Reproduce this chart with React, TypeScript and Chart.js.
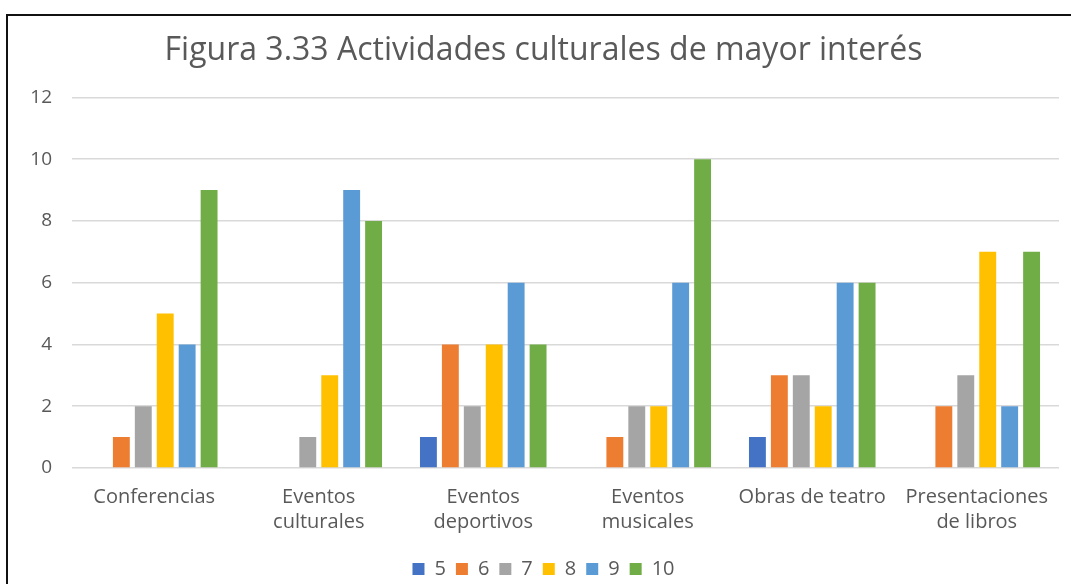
import React, { useEffect, useRef } from "react";
import { Chart, registerables } from "chart.js";

Chart.register(...registerables);

const categories: string[][] = [
  ["Conferencias"],
  ["Eventos", "culturales"],
  ["Eventos", "deportivos"],
  ["Eventos", "musicales"],
  ["Obras de teatro"],
  ["Presentaciones", "de libros"],
];

const seriesNames = ["5", "6", "7", "8", "9", "10"];
const serie5 = [0, 0, 1, 0, 1, 0];
const serie6 = [1, 0, 4, 1, 3, 2];
const serie7 = [2, 1, 2, 2, 3, 3];
const serie8 = [5, 3, 4, 2, 2, 7];
const serie9 = [4, 9, 6, 6, 6, 2];
const serie10 = [9, 8, 4, 10, 6, 7];
const seriesColors = ["#4472C4", "#ED7D31", "#A5A5A5", "#FFC000", "#5B9BD5", "#70AD47"];

const yTicks = [0, 2, 4, 6, 8, 10, 12];
const titleText = "Figura 3.33 Actividades culturales de mayor interés";

const FONT = "'Open Sans', Lato, sans-serif";
const TEXT = "#595959";

export default function App() {
  const canvasRef = useRef<HTMLCanvasElement | null>(null);

  useEffect(() => {
    if (!canvasRef.current) return;
    const values = [serie5, serie6, serie7, serie8, serie9, serie10];
    const chart = new Chart(canvasRef.current, {
      type: "bar",
      data: {
        labels: categories,
        datasets: seriesNames.map((name, i) => ({
          label: name,
          data: values[i],
          backgroundColor: seriesColors[i],
          borderWidth: 0,
          categoryPercentage: 0.8,
          barPercentage: 0.77,
        })),
      },
      options: {
        animation: false,
        responsive: false,
        maintainAspectRatio: false,
        layout: { padding: { left: 28, right: 12, top: 32, bottom: -5 } },
        plugins: {
          title: {
            display: true,
            text: titleText,
            color: TEXT,
            font: { family: FONT, size: 32, weight: "normal", lineHeight: 1.2 },
            padding: { top: 0, bottom: 27 },
          },
          legend: {
            position: "bottom",
            labels: {
              color: TEXT,
              font: { family: FONT, size: 20 },
              boxWidth: 12,
              boxHeight: 12,
              padding: 10,
            },
          },
          tooltip: { enabled: false },
        },
        scales: {
          x: {
            grid: { display: false },
            border: { display: false },
            afterFit: (scale: any) => {
              scale.height += 5;
            },
            ticks: {
              color: TEXT,
              font: { family: FONT, size: 20, lineHeight: 1.25 },
              maxRotation: 0,
              autoSkip: false,
              padding: 9,
            },
          },
          y: {
            min: 0,
            max: 12,
            afterBuildTicks: (scale: any) => {
              scale.ticks = yTicks.map((v) => ({ value: v }));
            },
            afterFit: (scale: any) => {
              scale.width = 44;
            },
            grid: { color: "#D9D9D9", lineWidth: 1.5, drawTicks: false },
            border: { display: false },
            ticks: {
              color: TEXT,
              font: { family: FONT, size: 19 },
              padding: 20,
            },
          },
        },
      },
    });
    return () => chart.destroy();
  }, []);

  return (
    <div
      style={{
        position: "fixed",
        left: 0,
        top: 0,
        width: 1071,
        height: 584,
        overflow: "hidden",
        background: "#fff",
      }}
    >
      <canvas
        ref={canvasRef}
        width={1071}
        height={584}
        style={{ position: "absolute", left: 0, top: 0 }}
      />
      <div
        style={{
          position: "absolute",
          left: 6,
          top: 14,
          width: 1100,
          height: 620,
          border: "2.5px solid #111",
          boxSizing: "border-box",
          pointerEvents: "none",
        }}
      />
    </div>
  );
}
